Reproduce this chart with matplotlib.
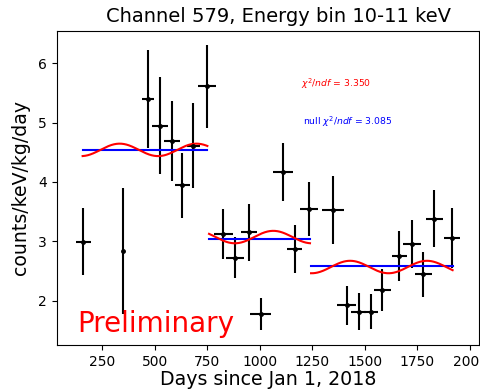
import numpy as np
import matplotlib
matplotlib.use("Agg")
import matplotlib.pyplot as plt

# binned rate for channel 579, 10-11 keV
days = [161, 351, 470, 526, 581, 632, 684, 748, 827, 882, 949, 1004, 1111,
        1166, 1234, 1347, 1413, 1470, 1528, 1583, 1664, 1723, 1778, 1830, 1916]
rate = [2.99, 2.84, 5.40, 4.95, 4.69, 3.94, 4.61, 5.61, 3.12, 2.72, 3.15, 1.77,
        4.17, 2.87, 3.54, 3.52, 1.92, 1.81, 1.81, 2.18, 2.75, 2.95, 2.44, 3.38, 3.06]
rate_err = [0.565, 1.06, 0.82, 0.815, 0.68, 0.555, 0.72, 0.705, 0.425, 0.345,
            0.48, 0.27, 0.485, 0.41, 0.455, 0.575, 0.33, 0.315, 0.295, 0.35,
            0.415, 0.405, 0.385, 0.485, 0.505]
day_err = [36, 2, 29, 36, 38, 37, 30, 43, 46, 44, 37, 48, 48,
           35, 44, 52, 46, 37, 32, 40, 36, 44, 40, 40, 38]

# run periods: [start, end], flat (null) level, modulated fit level
run_edges = [(158, 751), (759, 1239), (1244, 1917)]
null_level = [4.53, 3.04, 2.585]
fit_level = [4.54, 3.07, 2.565]
fit_amp = 0.105
fit_period = 365.25
fit_peak = 334

chi2_fit = 3.350
chi2_null = 3.085

fig = plt.figure(figsize=(4.81, 3.91), dpi=100)
ax = fig.add_axes([0.118, 0.1176, 0.8785, 0.804])

ax.errorbar(days, rate, yerr=rate_err, xerr=day_err, fmt='.', color='k',
            ms=5, elinewidth=1.5, capsize=0)

for (t0, t1), c0, c1 in zip(run_edges, null_level, fit_level):
    t = np.linspace(t0, t1, 200)
    ax.plot([t0, t1], [c0, c0], color='b', lw=1.5)
    ax.plot(t, c1 + fit_amp * np.cos(2 * np.pi * (t - fit_peak) / fit_period),
            color='r', lw=1.5)

ax.text(1195, 5.66, r'$\chi^2/ndf$ = %.3f' % chi2_fit, color='r',
        fontsize=6.7, va='center')
ax.text(1205, 5.02, r'null $\chi^2/ndf$ = %.3f' % chi2_null, color='b',
        fontsize=6.7, va='center')
ax.text(132, 1.47, 'Preliminary', color='r', fontsize=20)

ax.set_xlim(35, 2044)
ax.set_ylim(1.25, 6.55)
ax.set_xticks([250, 500, 750, 1000, 1250, 1500, 1750, 2000])
ax.set_yticks([2, 3, 4, 5, 6])
ax.tick_params(labelsize=10)
ax.set_title('Channel 579, Energy bin 10-11 keV', fontsize=14, x=0.524, pad=6.5)
ax.set_xlabel('Days since Jan 1, 2018', fontsize=13.7, labelpad=1)
ax.set_ylabel('counts/keV/kg/day', fontsize=13.6, labelpad=6)

fig.savefig('out.png', dpi=100)
